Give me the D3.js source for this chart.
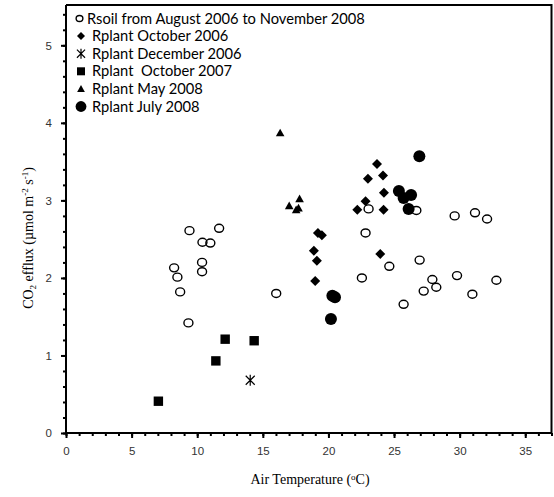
<!DOCTYPE html>
<html>
<head>
<meta charset="utf-8">
<script src="https://cdn.jsdelivr.net/npm/d3@7"></script>
<style>
  html, body { margin: 0; padding: 0; background: #fff; }
  svg { display: block; }
</style>
</head>
<body>
<svg id="chart" width="554" height="497"></svg>
<script>
// ---- data ----
const seriesNames = [
  "Rsoil from August 2006 to November 2008",
  "Rplant October 2006",
  "Rplant December 2006",
  "Rplant  October 2007",
  "Rplant May 2008",
  "Rplant July 2008"
];
const rsoilTemp = [9.41, 11.67, 10.4, 11.0, 10.37, 10.37, 8.24, 8.49, 8.70, 9.33, 16.02, 23.06, 26.7, 29.62, 31.17, 32.09, 22.83, 26.95, 24.64, 22.55, 27.92, 28.22, 27.26, 29.8, 32.8, 30.97, 25.73];
const rsoilFlux = [2.61, 2.64, 2.46, 2.45, 2.20, 2.08, 2.13, 2.01, 1.82, 1.42, 1.80, 2.89, 2.87, 2.80, 2.84, 2.76, 2.58, 2.23, 2.15, 2.00, 1.98, 1.88, 1.83, 2.03, 1.97, 1.79, 1.66];
const oct2006Temp = [19.2, 19.5, 18.89, 19.12, 18.99, 23.7, 23.01, 24.16, 24.23, 22.83, 22.2, 24.2, 23.95];
const oct2006Flux = [2.58, 2.55, 2.35, 2.22, 1.96, 3.47, 3.28, 3.32, 3.10, 2.99, 2.88, 2.88, 2.31];
const dec2006Temp = [14.04];
const dec2006Flux = [0.68];
const oct2007Temp = [7.04, 11.42, 12.13, 14.34];
const oct2007Flux = [0.41, 0.93, 1.21, 1.19];
const may2008Temp = [16.32, 17.01, 17.8, 17.54, 17.72];
const may2008Flux = [3.87, 2.93, 3.02, 2.88, 2.90];
const jul2008Temp = [26.93, 25.37, 26.3, 25.73, 26.11, 20.3, 20.5, 20.19];
const jul2008Flux = [3.57, 3.12, 3.07, 3.03, 2.89, 1.77, 1.75, 1.47];
const xTickLabels = [0, 5, 10, 15, 20, 25, 30, 35];
const yTickLabels = [0, 1, 2, 3, 4, 5];
const xLabel = "Air Temperature (";
const yLabel = "CO";

// ---- layout ----
const svg = d3.select("#chart");
const padL = 66, padR = 551.5, padT = 5, padB = 433;
const x = d3.scaleLinear().domain([0, 37]).range([padL, padR]);
const y = d3.scaleLinear().domain([0, 5.52]).range([padB, padT]);

const tickFont = "'Liberation Sans', Arial, sans-serif";
const serif = "'Liberation Serif', 'Times New Roman', serif";

// frame (top and right)
svg.append("path")
  .attr("d", `M${padL},${padT}H${padR}V${padB}`)
  .attr("fill", "none").attr("stroke", "#000").attr("stroke-width", 2);

// x axis: minor
const xMinor = svg.append("g").attr("transform", `translate(0,${padB})`)
  .call(d3.axisBottom(x).tickValues(d3.range(0, 38, 1)).tickSize(3).tickFormat(""));
// x axis: major
const xMajor = svg.append("g").attr("transform", `translate(0,${padB})`)
  .call(d3.axisBottom(x).tickValues(xTickLabels).tickSize(5).tickPadding(9).tickFormat(d3.format("d")));
// y axis: minor
const yMinor = svg.append("g").attr("transform", `translate(${padL},0)`)
  .call(d3.axisLeft(y).tickValues(d3.range(0, 28).map(i => i * 0.2)).tickSize(3).tickFormat(""));
const yMajor = svg.append("g").attr("transform", `translate(${padL},0)`)
  .call(d3.axisLeft(y).tickValues(yTickLabels).tickSize(5).tickPadding(9).tickFormat(d3.format("d")));

[xMinor, xMajor, yMinor, yMajor].forEach(g => {
  g.select(".domain").remove();
  g.selectAll(".tick line").attr("stroke", "#000").attr("stroke-width", 2);
  g.selectAll(".tick text").attr("fill", "#333").style("font-family", tickFont).style("font-size", "11.5px");
});
// axis lines
svg.append("path").attr("d", `M${padL},${padT}V${padB}H${padR}`)
  .attr("fill", "none").attr("stroke", "#000").attr("stroke-width", 2);

// axis titles
const xt = svg.append("text").attr("x", 310).attr("y", 484).attr("text-anchor", "middle")
  .style("font-family", serif).style("font-size", "14px").attr("fill", "#000");
xt.append("tspan").text(xLabel);
xt.append("tspan").text("o").attr("font-size", "9px").attr("dy", "-4");
xt.append("tspan").text("C)").attr("dy", "4");

const yt = svg.append("text").attr("transform", "translate(33,238) rotate(-90)").attr("text-anchor", "middle")
  .style("font-family", serif).style("font-size", "14px").attr("fill", "#000");
yt.append("tspan").text(yLabel);
yt.append("tspan").text("2").attr("font-size", "9px").attr("dy", "3");
yt.append("tspan").text(" efflux (µmol m").attr("dy", "-3");
yt.append("tspan").text("-2").attr("font-size", "9px").attr("dy", "-5");
yt.append("tspan").text(" s").attr("dy", "5");
yt.append("tspan").text("-1").attr("font-size", "9px").attr("dy", "-5");
yt.append("tspan").text(")").attr("dy", "5");

// ---- markers ----
const zip = (a, b) => a.map((v, i) => [v, b[i]]);
const plot = svg.append("g");

function drawSymbol(g, kind, cx, cy, scale) {
  const s = scale || 1;
  if (kind === "open") {
    g.append("ellipse").attr("cx", cx).attr("cy", cy).attr("rx", 4.5 * s).attr("ry", 4 * s)
      .attr("fill", "none").attr("stroke", "#000").attr("stroke-width", 1.4);
  } else if (kind === "diamond") {
    const r = 5 * s;
    g.append("path").attr("d", `M${cx},${cy - r}L${cx + r},${cy}L${cx},${cy + r}L${cx - r},${cy}Z`).attr("fill", "#000");
  } else if (kind === "star") {
    const r = 4.5 * s;
    g.append("path").attr("d", `M${cx - r},${cy - r}L${cx + r},${cy + r}M${cx - r},${cy + r}L${cx + r},${cy - r}M${cx},${cy - r - 1}V${cy + r + 1}`)
      .attr("stroke", "#000").attr("stroke-width", 1.2).attr("fill", "none");
  } else if (kind === "square") {
    const r = 4.7 * s;
    g.append("rect").attr("x", cx - r).attr("y", cy - r).attr("width", 2 * r).attr("height", 2 * r).attr("fill", "#000");
  } else if (kind === "triangle") {
    const r = 4.3 * s;
    g.append("path").attr("d", `M${cx},${cy - r}L${cx + r},${cy + r * 0.8}L${cx - r},${cy + r * 0.8}Z`).attr("fill", "#000");
  } else if (kind === "filled") {
    g.append("circle").attr("cx", cx).attr("cy", cy).attr("r", 6 * s).attr("fill", "#000");
  }
}

const series = [
  { kind: "diamond", pts: zip(oct2006Temp, oct2006Flux) },
  { kind: "star", pts: zip(dec2006Temp, dec2006Flux) },
  { kind: "square", pts: zip(oct2007Temp, oct2007Flux) },
  { kind: "triangle", pts: zip(may2008Temp, may2008Flux) },
  { kind: "filled", pts: zip(jul2008Temp, jul2008Flux) },
  { kind: "open", pts: zip(rsoilTemp, rsoilFlux) }
];
series.forEach(s => s.pts.forEach(p => drawSymbol(plot, s.kind, x(p[0]), y(p[1]))));

// ---- legend ----
const legendKinds = ["open", "diamond", "star", "square", "triangle", "filled"];
const legendScale = [0.75, 0.8, 0.9, 0.85, 0.9, 0.9];
const leg = svg.append("g");
legendKinds.forEach((k, i) => {
  const cy = 18.5 + i * 17.6;
  drawSymbol(leg, k, i === 0 ? 79.5 : 81, cy, legendScale[i]);
  leg.append("text").attr("x", i === 0 ? 87 : 92).attr("y", cy).attr("dy", "0.35em")
    .attr("xml:space", "preserve").style("white-space", "pre")
    .style("font-family", "Lato, 'Open Sans', sans-serif").style("font-size", "15px").attr("fill", "#000")
    .text(seriesNames[i]);
});
// fit legend font so first row matches the reference width
const firstRow = leg.select("text").node();
const w = firstRow.getComputedTextLength();
const fs = 15 * 278 / w;
leg.selectAll("text").style("font-size", fs.toFixed(2) + "px");
</script>
</body>
</html>
